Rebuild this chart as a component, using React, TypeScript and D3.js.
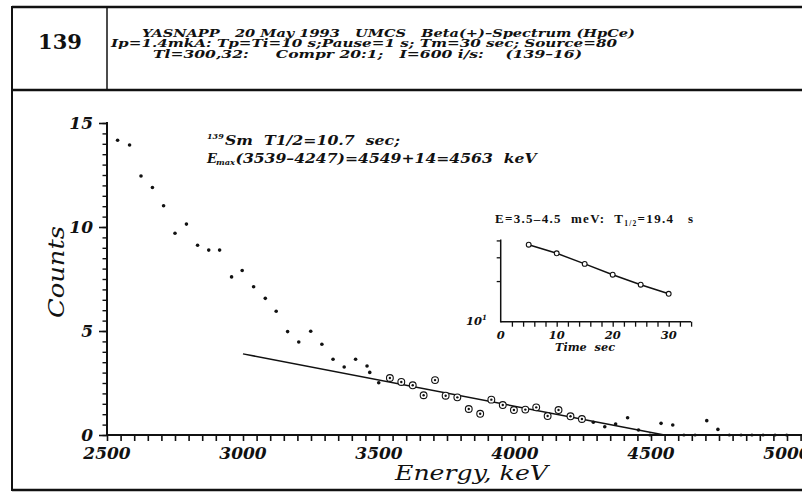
import React, { useEffect, useRef } from 'react';
import * as d3 from 'd3';

// beta spectrum, filled dots (energy keV / counts)
const DOT_ENERGY = [
  2539, 2583, 2625, 2667, 2708, 2750, 2792, 2833, 2874, 2914, 2958, 2997,
  3039, 3082, 3122, 3164, 3205, 3249, 3290, 3331, 3372, 3414, 3456, 3466, 3499,
  4288, 4330, 4370, 4414, 4454, 4537, 4580, 4705, 4746,
];
const DOT_COUNTS = [
  14.17, 13.94, 12.45, 11.9, 11.02, 9.7, 10.14, 9.12, 8.89, 8.89, 7.6, 7.91,
  7.13, 6.57, 5.95, 4.97, 4.47, 4.99, 4.36, 3.64, 3.27, 3.64, 3.32, 3.01, 2.51,
  0.61, 0.4, 0.53, 0.83, 0.24, 0.56, 0.48, 0.69, 0.27,
];
// points with zero counts (sit on the axis)
const ZERO_ENERGY = [4496, 4621, 4662, 4788, 4831, 4871, 4912, 4956, 4999];
// points used in the fit (3539-4247 keV), drawn circled
const FIT_ENERGY = [
  3540, 3582, 3624, 3664, 3706, 3745, 3788, 3830, 3872, 3913, 3955, 3996,
  4038, 4078, 4120, 4160, 4204, 4246,
];
const FIT_COUNTS = [
  2.74, 2.55, 2.39, 1.91, 2.64, 1.89, 1.81, 1.25, 1.02, 1.7, 1.44, 1.2,
  1.22, 1.33, 0.91, 1.2, 0.9, 0.77,
];
const LINE_ENERGY = [3000, 4549];
const LINE_COUNTS = [3.9, 0];

const X_LABELS = [2500, 3000, 3500, 4000, 4500, 5000];
const Y_LABELS = [0, 5, 10, 15];

// inset: decay curve
const DECAY_TIME = [5, 10, 15, 20, 25, 30];
const DECAY_RATE = [37.2, 32.1, 26.8, 22.3, 18.8, 16.1];
const DECAY_X_LABELS = [0, 10, 20, 30];
const DECAY_Y_TICKS = [20, 30, 40];

const HEADER = [
  'YASNAPP   20 May 1993   UMCS   Beta(+)\u2013Spectrum (HpCe)',
  'Ip=1.4mkA: Tp=Ti=10 s;Pause=1 s; Tm=30 sec; Source=80',
  'Tl=300,32:     Compr 20:1;   I=600 i/s:    (139\u201316)',
];

const FONT = "'DejaVu Serif', serif";
const INK = '#111';

export default function App() {
  const x = d3.scaleLinear().domain([2500, 5000]).range([107, 787]);
  const y = d3.scaleLinear().domain([0, 15]).range([435, 123]);
  const tx = d3.scaleLinear().domain([0, 30]).range([500.7, 668.7]);
  const ty = d3.scaleLog().domain([10, 100]).range([321.7, 186.7]);

  const xMinor = useRef<SVGGElement>(null);
  const yMinor = useRef<SVGGElement>(null);
  const yMajor = useRef<SVGGElement>(null);
  const txRef = useRef<SVGGElement>(null);
  const tyRef = useRef<SVGGElement>(null);

  useEffect(() => {
    const style = (g: any, w: number) => {
      g.select('.domain').remove();
      g.selectAll('line').attr('stroke', INK).attr('stroke-width', w);
      g.selectAll('text').remove();
    };
    d3.select(xMinor.current)
      .call(d3.axisBottom(x).tickValues(d3.range(2500, 5051, 50)).tickSize(6).tickFormat(() => ''))
      .call(style, 1.6);
    d3.select(yMinor.current)
      .call(d3.axisLeft(y).tickValues(d3.range(0, 15.01, 0.5)).tickSize(4.5).tickFormat(() => ''))
      .call(style, 1.4);
    d3.select(yMajor.current)
      .call(d3.axisLeft(y).tickValues(Y_LABELS).tickSize(8).tickFormat(() => ''))
      .call(style, 1.6);
    d3.select(txRef.current)
      .call(d3.axisBottom(tx).tickValues(d3.range(2, 34.1, 2)).tickSize(5).tickFormat(() => ''))
      .call(style, 1.3);
    d3.select(tyRef.current)
      .call(d3.axisLeft(ty).tickValues(DECAY_Y_TICKS).tickSize(4).tickFormat(() => ''))
      .call(style, 1.3);
  }, []);

  const fitLine = d3.line<number>()
    .x((d, i) => x(LINE_ENERGY[i]))
    .y(d => y(d));
  const decayLine = d3.line<number>()
    .x((d, i) => tx(DECAY_TIME[i]))
    .y(d => ty(d));

  const bi = { fontFamily: FONT, fontWeight: 'bold', fontStyle: 'italic', fill: INK } as const;
  const pre = { whiteSpace: 'pre' } as const;
  const b = { fontFamily: "'Liberation Serif', serif", fontWeight: 'bold', fill: INK } as const;

  return (
    <svg width={802} height={492} style={{ position: 'absolute', left: 0, top: 0, background: '#fff' }}>
      <rect width={802} height={492} fill="#fff" />

      {/* frame */}
      <line x1={12} x2={802} y1={7} y2={7} stroke={INK} strokeWidth={2.5} />
      <line x1={12} x2={802} y1={90} y2={90} stroke={INK} strokeWidth={2.5} />
      <line x1={12} x2={802} y1={490} y2={490} stroke={INK} strokeWidth={2.5} />
      <line x1={12} x2={12} y1={6} y2={491} stroke={INK} strokeWidth={2} />
      <line x1={107} x2={107} y1={7} y2={90} stroke={INK} strokeWidth={1.5} />

      <text x={60} y={49} textAnchor="middle" fontFamily={FONT} fontWeight="bold" fontSize={21} fill={INK}>139</text>
      <text x={142} y={37} fontSize={11} style={pre} {...bi}
        textLength={493} lengthAdjust="spacingAndGlyphs">{HEADER[0]}</text>
      <text x={111} y={47} fontSize={11} style={pre} {...bi}
        textLength={506} lengthAdjust="spacingAndGlyphs">{HEADER[1]}</text>
      <text x={153} y={57.5} fontSize={11} style={pre} {...bi}
        textLength={429} lengthAdjust="spacingAndGlyphs">{HEADER[2]}</text>

      {/* main axes */}
      <line x1={107} x2={802} y1={435} y2={435} stroke={INK} strokeWidth={2} />
      <line x1={107} x2={107} y1={122} y2={436} stroke={INK} strokeWidth={2} />
      <g ref={xMinor} transform="translate(0,435)" />
      <g ref={yMinor} transform="translate(107,0)" />
      <g ref={yMajor} transform="translate(107,0)" />

      {X_LABELS.map(v => (
        <text key={v} x={x(v)} y={459} textAnchor="middle" fontSize={17} {...bi}>{v}</text>
      ))}
      {Y_LABELS.map(v => (
        <text key={v} x={93} y={y(v) + 6} textAnchor="end" fontSize={17} {...bi}>{v}</text>
      ))}

      <text x={395} y={480} fontFamily={FONT} fontStyle="italic" fontSize={21} fill={INK}
        textLength={153} lengthAdjust="spacingAndGlyphs">Energy, keV</text>
      <text transform="translate(64,272) rotate(-90)" textAnchor="middle" fontFamily={FONT}
        fontStyle="italic" fontSize={22} fill={INK} textLength={92} lengthAdjust="spacingAndGlyphs">Counts</text>

      {/* annotation */}
      <text x={207} y={139} fontSize={8} {...bi}>139</text>
      <text x={225} y={145} fontSize={13} style={pre} {...bi}
        textLength={175} lengthAdjust="spacingAndGlyphs">Sm  T1/2=10.7  sec;</text>
      <text x={207} y={163} fontSize={13} {...bi}>E</text>
      <text x={216} y={165} fontSize={8} {...bi} textLength={19} lengthAdjust="spacingAndGlyphs">max</text>
      <text x={235.5} y={163} fontSize={13} style={pre} {...bi}
        textLength={301} lengthAdjust="spacingAndGlyphs">{'(3539\u20134247)=4549+14=4563  keV'}</text>

      {/* spectrum */}
      <path d={fitLine(LINE_COUNTS) || ''} fill="none" stroke={INK} strokeWidth={1.5} />
      {DOT_ENERGY.map((e, i) => (
        <circle key={'d' + i} cx={x(e)} cy={y(DOT_COUNTS[i])} r={1.8} fill={INK} />
      ))}
      {ZERO_ENERGY.map((e, i) => (
        <circle key={'z' + i} cx={x(e)} cy={y(0)} r={1.6} fill={INK} />
      ))}
      {FIT_ENERGY.map((e, i) => (
        <g key={'f' + i}>
          <circle cx={x(e)} cy={y(FIT_COUNTS[i])} r={3.4} fill="#fff" stroke={INK} strokeWidth={1.1} />
          <circle cx={x(e)} cy={y(FIT_COUNTS[i])} r={1.2} fill={INK} />
        </g>
      ))}

      {/* inset */}
      <text x={495} y={223} fontSize={13} {...b} style={pre} textLength={178} lengthAdjust="spacing">
        {'E=3.5\u20134.5  meV:  T'}
        <tspan fontSize={7.5} dy={3}>1/2</tspan>
        <tspan dy={-3}>=19.4</tspan>
      </text>
      <text x={688} y={223} fontSize={13} {...b}>s</text>

      <line x1={500.7} x2={691} y1={321.7} y2={321.7} stroke={INK} strokeWidth={1.5} />
      <line x1={500.7} x2={500.7} y1={239.5} y2={322.5} stroke={INK} strokeWidth={1.5} />
      <g ref={txRef} transform="translate(0,321.7)" />
      <g ref={tyRef} transform="translate(500.7,0)" />
      {DECAY_X_LABELS.map(v => (
        <text key={v} x={tx(v)} y={339} textAnchor="middle" fontSize={11.5} {...bi}>{v}</text>
      ))}
      <text x={555} y={351} fontSize={10.5} style={pre} {...bi}
        textLength={60} lengthAdjust="spacingAndGlyphs">Time  sec</text>
      <text x={466} y={325} fontSize={11.5} {...bi}>10</text>
      <text x={482} y={320} fontSize={7} {...bi}>1</text>

      <path d={decayLine(DECAY_RATE) || ''} fill="none" stroke={INK} strokeWidth={1.5} />
      {DECAY_TIME.map((t, i) => (
        <circle key={'t' + i} cx={tx(t)} cy={ty(DECAY_RATE[i])} r={2.4} fill="#fff" stroke={INK} strokeWidth={1.1} />
      ))}
    </svg>
  );
}
